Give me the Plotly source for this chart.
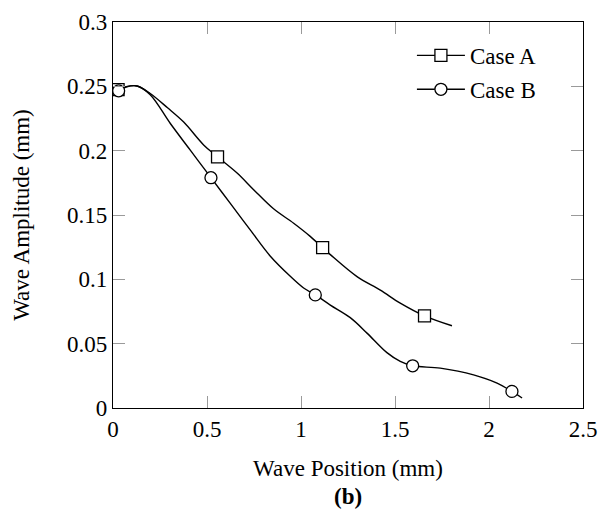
import plotly.graph_objects as go

# Case A (square markers at selected points)
case_a_x = [0.027, 0.07, 0.128, 0.198, 0.290, 0.376, 0.482, 0.556, 0.660, 0.748,
            0.854, 0.961, 1.049, 1.115, 1.156, 1.298, 1.422, 1.528, 1.657, 1.803]
case_a_y = [0.2475, 0.2498, 0.2503, 0.2444, 0.2333, 0.2222, 0.2045, 0.1952, 0.1826, 0.1697,
            0.1548, 0.1436, 0.1334, 0.1246, 0.1192, 0.1021, 0.0916, 0.0815, 0.0716, 0.0639]
case_a_mark = [1, 0, 0, 0, 0, 0, 0, 1, 0, 0, 0, 0, 0, 1, 0, 0, 0, 0, 1, 0]

# Case B (circle markers at selected points)
case_b_x = [0.03, 0.07, 0.128, 0.198, 0.305, 0.411, 0.521, 0.624, 0.730, 0.837,
            0.943, 1.014, 1.076, 1.156, 1.262, 1.351, 1.457, 1.528, 1.594, 1.741,
            1.918, 2.043, 2.122, 2.176]
case_b_y = [0.2465, 0.2495, 0.2503, 0.2435, 0.2211, 0.2004, 0.1790, 0.1590, 0.1384, 0.1180,
            0.1024, 0.0933, 0.0879, 0.0800, 0.0702, 0.0582, 0.0430, 0.0362, 0.0328, 0.0310,
            0.0258, 0.0194, 0.0129, 0.0078]
case_b_mark = [1, 0, 0, 0, 0, 0, 1, 0, 0, 0, 0, 0, 1, 0, 0, 0, 0, 0, 1, 0, 0, 0, 1, 0]

x_ticks = [0, 0.5, 1, 1.5, 2, 2.5]
x_tick_labels = ["0", "0.5", "1", "1.5", "2", "2.5"]
y_ticks = [0, 0.05, 0.1, 0.15, 0.2, 0.25, 0.3]
y_tick_labels = ["0", "0.05", "0.1", "0.15", "0.2", "0.25", "0.3"]

FONT = "Liberation Serif"
FS = 23


def series(x, y, marks, symbol, name, group):
    fill = ["white" if m else "rgba(0,0,0,0)" for m in marks]
    edge = ["black" if m else "rgba(0,0,0,0)" for m in marks]
    return go.Scatter(
        x=x, y=y, name=name, mode="lines+markers", legendgroup=group,
        line=dict(color="black", width=1.4, shape="spline", smoothing=1.0),
        marker=dict(symbol=symbol, size=12, color=fill,
                    line=dict(color=edge, width=1.3)),
    )


fig = go.Figure()
fig.add_trace(series(case_a_x, case_a_y, case_a_mark, "square", "Case A", "a"))
fig.add_trace(series(case_b_x, case_b_y, case_b_mark, "circle", "Case B", "b"))

axis_common = dict(
    showline=True, linecolor="black", linewidth=1.3, mirror="ticks",
    ticks="inside", ticklen=12, tickcolor="#9a9a9a", tickwidth=1,
    showgrid=False, zeroline=False, automargin=False,
    tickfont=dict(family=FONT, size=FS, color="black"),
)

fig.update_layout(
    width=602, height=514,
    margin=dict(l=113, r=19, t=22, b=106),
    paper_bgcolor="white", plot_bgcolor="white",
    font=dict(family=FONT, size=FS, color="black"),
    showlegend=True,
    legend=dict(x=0.636, y=0.969, xanchor="left", yanchor="top",
                bgcolor="rgba(255,255,255,0)", borderwidth=0,
                font=dict(family=FONT, size=FS), tracegroupgap=1,
                itemwidth=48),
    xaxis=dict(range=[0, 2.5], tickvals=x_ticks, ticktext=x_tick_labels,
               title=dict(text="Wave Position (mm)", standoff=19,
                          font=dict(family=FONT, size=FS)),
               **axis_common),
    yaxis=dict(range=[0, 0.3], tickvals=y_ticks, ticktext=y_tick_labels,
               title=dict(text="Wave Amplitude (mm)", standoff=30,
                          font=dict(family=FONT, size=FS)),
               **axis_common),
    annotations=[dict(text="<b>(b)</b>", x=0.5, y=-0.229, xref="paper", yref="paper",
                      xanchor="center", yanchor="middle", showarrow=False,
                      font=dict(family=FONT, size=FS))],
)

fig.write_html("out.html", config={"displayModeBar": False},
               post_script="document.body.style.margin='0';document.body.style.overflow='hidden';")
